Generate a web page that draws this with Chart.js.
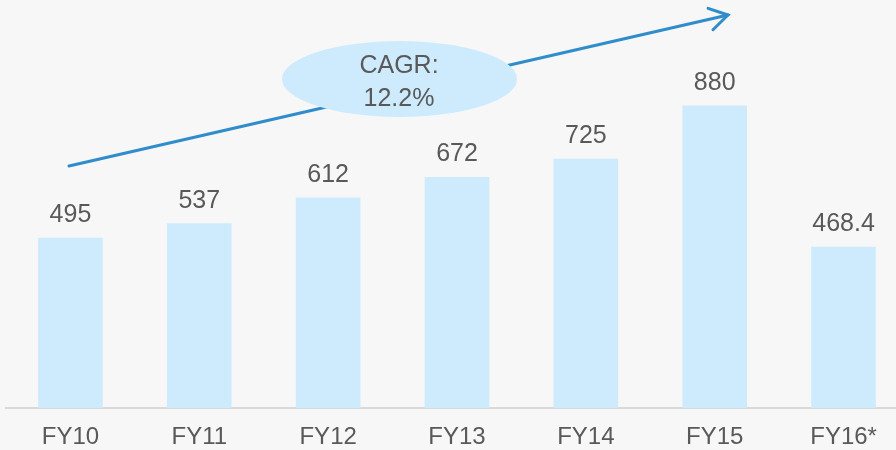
<!DOCTYPE html>
<html>
<head>
<meta charset="utf-8">
<script src="https://cdn.jsdelivr.net/npm/chart.js@4.4.1/dist/chart.umd.min.js"></script>
<style>
  html, body { margin: 0; padding: 0; background: #f7f7f7; }
  .wrap { width: 896px; height: 450px; overflow: hidden; position: relative; }
  .box { width: 912px; height: 469px; }
</style>
</head>
<body>
<div class="wrap"><div class="box"><canvas id="myChart"></canvas></div></div>
<script>
// ------------------------Data------------------------------------------------
const categories = ['FY10', 'FY11', 'FY12', 'FY13', 'FY14', 'FY15', 'FY16*']
const values = [495, 537, 612, 672, 725, 880, 468.4]
const valueLabels = ['495', '537', '612', '672', '725', '880', '468.4']
const cagrText = ['CAGR:', '12.2%']

const barColor = '#cdebfd'
const textColor = '#595959'
const arrowColor = '#2f8dcb'

// ------------------------Labels above bars-----------------------------------
const barLabels = {
  id: 'barLabels',
  afterDatasetsDraw(chart) {
    const ctx = chart.ctx
    const meta = chart.getDatasetMeta(0)
    ctx.save()
    ctx.font = '25px "Liberation Sans", Arial, sans-serif'
    ctx.fillStyle = textColor
    ctx.textAlign = 'center'
    ctx.textBaseline = 'alphabetic'
    meta.data.forEach((bar, i) => {
      ctx.fillText(valueLabels[i], bar.x, bar.y - 16)
    })
    ctx.restore()
  }
}

// ------------------------Arrow + CAGR bubble---------------------------------
const cagrNote = {
  id: 'cagrNote',
  afterDraw(chart) {
    const ctx = chart.ctx
    const x0 = 69, y0 = 166, x1 = 728, y1 = 15
    ctx.save()
    ctx.strokeStyle = arrowColor
    ctx.lineWidth = 3
    ctx.lineCap = 'round'
    ctx.beginPath()
    ctx.moveTo(x0, y0)
    ctx.lineTo(x1, y1)
    ctx.stroke()

    // open arrow head
    const ang = Math.atan2(y1 - y0, x1 - x0)
    const len = 21
    const spread = 0.55
    ctx.beginPath()
    ctx.moveTo(x1 - len * Math.cos(ang - spread), y1 - len * Math.sin(ang - spread))
    ctx.lineTo(x1, y1)
    ctx.lineTo(x1 - len * Math.cos(ang + spread), y1 - len * Math.sin(ang + spread))
    ctx.stroke()

    // bubble
    ctx.fillStyle = barColor
    ctx.beginPath()
    ctx.ellipse(399.5, 79, 117.5, 38, 0, 0, Math.PI * 2)
    ctx.fill()

    ctx.fillStyle = textColor
    ctx.font = '25px "Liberation Sans", Arial, sans-serif'
    ctx.textAlign = 'center'
    ctx.textBaseline = 'alphabetic'
    ctx.fillText(cagrText[0], 399, 73)
    ctx.fillText(cagrText[1], 399, 106)
    ctx.restore()
  }
}

// ------------------------Chart-----------------------------------------------
const chartCanvas = document.getElementById('myChart')
const myChart = new Chart(chartCanvas, {
  type: 'bar',
  data: {
    labels: categories,
    datasets: [{
      data: values,
      backgroundColor: barColor,
      borderWidth: 0,
      barThickness: 64
    }]
  },
  options: {
    responsive: true,
    maintainAspectRatio: false,
    animation: false,
    layout: { padding: { left: 6, right: 4, top: 0, bottom: 3 } },
    plugins: {
      legend: { display: false },
      tooltip: { enabled: false }
    },
    scales: {
      x: {
        grid: { display: false, drawTicks: false },
        border: { display: true, color: '#d9d9d9', width: 2 },
        ticks: {
          color: textColor,
          padding: 17,
          maxRotation: 0,
          autoSkip: false,
          font: { family: '"Liberation Sans", Arial, sans-serif', size: 24, lineHeight: 1 }
        }
      },
      y: {
        display: false,
        min: 0,
        max: 1188
      }
    }
  },
  plugins: [barLabels, cagrNote]
})
</script>
</body>
</html>
